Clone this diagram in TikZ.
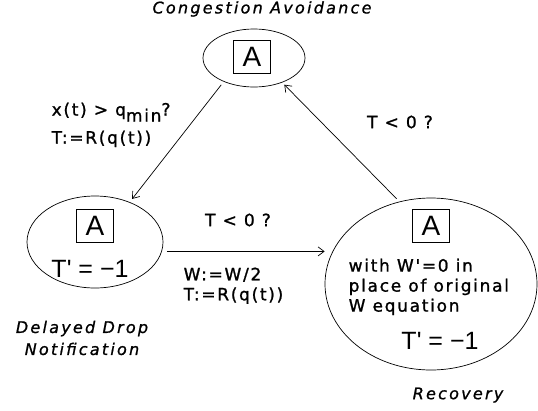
\documentclass[tikz,border=0pt]{standalone}
\usepackage{fontspec}
\newfontfamily\macfont{DejaVu Sans}[Ligatures=TeXOff, LetterSpace=10, FakeBold=1.2]
\newfontfamily\capfont{DejaVu Sans}[Ligatures=TeXOff, LetterSpace=14, FakeBold=1]
\newfontfamily\helvfont{Liberation Sans}[Ligatures=TeXOff]
\usetikzlibrary{positioning,shapes.geometric,arrows.meta}

\begin{document}
\begin{tikzpicture}[x=1pt, y=-1pt, >={Straight Barb[length=6pt,width=9pt]},
    line width=0.7pt, font=\macfont\fontsize{17}{20}\selectfont]
  \tikzstyle{state}=[ellipse, draw, inner sep=0pt]
  \tikzstyle{abox}=[rectangle, draw, font=\helvfont\fontsize{28}{28}\selectfont, inner sep=0pt, minimum width=37, minimum height=33]
  \tikzstyle{big}=[font=\helvfont\fontsize{25}{25}\selectfont]
  \tikzstyle{caption}=[font=\capfont\itshape\fontsize{16}{22}\selectfont, align=center]
  \useasboundingbox (0,0) rectangle (538,410);

  % states
  \node[state, minimum width=102, minimum height=58] (ca) at (254,58) {};
  \node[abox] (caA) at (252,57) {A};
  \node[state, minimum width=136, minimum height=92] (dd) at (95,242) {};
  \node[abox] (ddA) at (95,226) {A};
  \node[big] (ddT) at (90,269) {T' = −1};
  \node[state, minimum width=212, minimum height=172] (rec) at (431,284) {};
  \node[abox] (recA) at (431,226) {A};
  \node[align=left, anchor=north west] (recW) at (345,255) {with W'=0 in\\place of original\\W equation};
  \node[big] (recT) at (440,341) {T' = −1};

  % captions
  \node[caption] (caL) at (262,9) {Congestion Avoidance};
  \node[caption] (ddL) at (82,338) {Delayed Drop\\Notification};
  \node[caption] (recL) at (458,395) {Recovery};

  % transitions
  \draw[->, shorten <=4pt, shorten >=4pt] (ca.218) -- (dd.49);
  \draw[->, shorten <=4pt, shorten >=3pt] (rec.111) -- (ca.319);
  \draw[->, shorten <=5pt] (dd.352) -- (dd.352 -| rec.west);

  \node[align=left, anchor=north west] (ddIn) at (48,99) {x(t) > q\raisebox{-6pt}{min}?\\[8pt]T:=R(q(t))};
  \node (caIn) at (400,122) {T < 0 ?};
  \node (recIn) at (238,220) {T < 0 ?};
  \node[align=left, anchor=north west] (recDo) at (180,264) {W:=W/2\\T:=R(q(t))};
\end{tikzpicture}
\end{document}
